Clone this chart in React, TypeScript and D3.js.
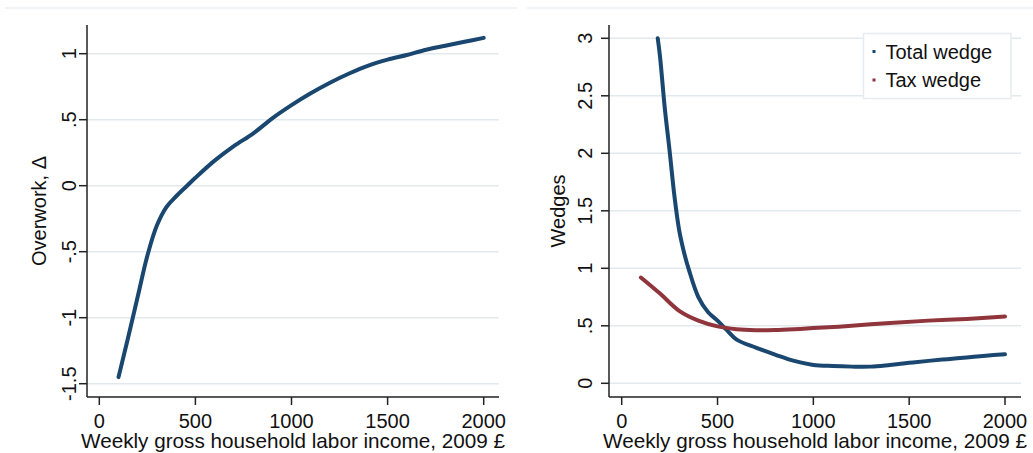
import React from 'react'
import * as d3 from 'd3'

// Overwork by weekly income (left panel)
const overworkIncome = [100, 150, 200, 250, 300, 350, 400, 450, 500, 600, 700, 800, 900, 1000, 1100, 1200, 1300, 1400, 1500, 1600, 1700, 1800, 1900, 2000]
const overworkValues = [-1.45, -1.15, -0.84, -0.53, -0.3, -0.16, -0.08, -0.01, 0.06, 0.19, 0.3, 0.395, 0.51, 0.61, 0.7, 0.78, 0.85, 0.91, 0.955, 0.99, 1.03, 1.06, 1.09, 1.12]

// Wedges by weekly income (right panel)
const totalIncome = [188, 200, 225, 250, 275, 300, 325, 350, 400, 450, 500, 550, 600, 700, 800, 900, 1000, 1100, 1200, 1300, 1400, 1500, 1600, 1700, 1800, 1900, 2000]
const totalWedge = [3.0, 2.84, 2.39, 2.02, 1.63, 1.33, 1.14, 0.99, 0.75, 0.62, 0.545, 0.46, 0.38, 0.31, 0.25, 0.195, 0.16, 0.15, 0.145, 0.145, 0.16, 0.178, 0.195, 0.21, 0.225, 0.24, 0.252]
const taxIncome = [100, 200, 300, 400, 500, 600, 700, 800, 900, 1000, 1200, 1400, 1600, 1800, 2000]
const taxWedge = [0.92, 0.78, 0.63, 0.545, 0.495, 0.47, 0.462, 0.463, 0.47, 0.48, 0.5, 0.525, 0.545, 0.56, 0.58]

const xTicks = [0, 500, 1000, 1500, 2000]
const leftYTicks = [-1.5, -1, -0.5, 0, 0.5, 1]
const rightYTicks = [0, 0.5, 1, 1.5, 2, 2.5, 3]
const legendLabels = ['Total wedge', 'Tax wedge']

const BLUE = '#1a476f'
const RED = '#90353b'
const GRID = '#e3eaee'
const FONT = 'Arial, "Liberation Sans", sans-serif'

// Stata-style labels: ".5", "-.5", "1.5"
const fmt = (v: number) => {
  const s = String(v)
  return s.replace(/^0\./, '.').replace(/^-0\./, '-.')
}

type Series = { xs: number[]; ys: number[]; color: string }

type PanelProps = {
  left: number
  right: number
  top: number
  bottom: number
  yDomain: [number, number]
  yRange: [number, number]
  xRange: [number, number]
  yTicks: number[]
  yTitle: string
  yLabelX: number
  yTitleX: number
  series: Series[]
}

const Panel = (p: PanelProps) => {
  const x = d3.scaleLinear().domain([0, 2000]).range(p.xRange)
  const y = d3.scaleLinear().domain(p.yDomain).range(p.yRange)
  const line = (s: Series) =>
    d3
      .line<number>()
      .x((_, i) => x(s.xs[i]))
      .y(d => y(d))
      .curve(d3.curveCatmullRom.alpha(0.5))(s.ys) || ''
  const midY = (p.top + p.bottom) / 2
  const midX = (p.left + p.right) / 2

  return (
    <g fontFamily={FONT}>
      {p.yTicks.map(t => (
        <line key={'g' + t} x1={p.left} x2={p.right} y1={y(t)} y2={y(t)} stroke={GRID} strokeWidth={1.5} />
      ))}
      {p.series.map((s, i) => (
        <path key={i} d={line(s)} fill="none" stroke={s.color} strokeWidth={4} strokeLinejoin="round" strokeLinecap="round" />
      ))}
      <line x1={p.left} x2={p.left} y1={p.top} y2={p.bottom} stroke="#222" strokeWidth={1.5} />
      <line x1={p.left} x2={p.right} y1={p.bottom} y2={p.bottom} stroke="#222" strokeWidth={1.5} />
      {p.yTicks.map(t => (
        <g key={'y' + t}>
          <line x1={p.left - 8} x2={p.left} y1={y(t)} y2={y(t)} stroke="#222" strokeWidth={1.5} />
          <text transform={`translate(${p.yLabelX},${y(t)}) rotate(-90)`} textAnchor="middle" fontSize={20} fill="#111">
            {fmt(t)}
          </text>
        </g>
      ))}
      {xTicks.map(t => (
        <g key={'x' + t}>
          <line x1={x(t)} x2={x(t)} y1={p.bottom} y2={p.bottom + 8} stroke="#222" strokeWidth={1.5} />
          <text x={x(t)} y={428} textAnchor="middle" fontSize={20} fill="#111">
            {t}
          </text>
        </g>
      ))}
      <text transform={`translate(${p.yTitleX},${midY}) rotate(-90)`} textAnchor="middle" fontSize={20} fill="#111">
        {p.yTitle}
      </text>
      <text x={midX} y={448} textAnchor="middle" fontSize={20.7} fill="#111">
        Weekly gross household labor income, 2009 £
      </text>
    </g>
  )
}

export default function App() {
  return (
    <svg width={1033} height={453} style={{ position: 'absolute', left: 0, top: 0, background: '#fff' }}>
      <line x1={5} x2={517} y1={8} y2={8} stroke="#edf1f3" strokeWidth={1.5} />
      <line x1={527} x2={1033} y1={8} y2={8} stroke="#edf1f3" strokeWidth={1.5} />
      <Panel
        left={87}
        right={499}
        top={25}
        bottom={397}
        xRange={[99.3, 483.7]}
        yDomain={[0, 1]}
        yRange={[185.7, 53.7]}
        yTicks={leftYTicks}
        yTitle="Overwork, Δ"
        yLabelX={76}
        yTitleX={46}
        series={[{ xs: overworkIncome, ys: overworkValues, color: BLUE }]}
      />
      <Panel
        left={609}
        right={1021}
        top={25}
        bottom={397}
        xRange={[621.7, 1005]}
        yDomain={[0, 3]}
        yRange={[383.3, 38.3]}
        yTicks={rightYTicks}
        yTitle="Wedges"
        yLabelX={592}
        yTitleX={565}
        series={[
          { xs: totalIncome, ys: totalWedge, color: BLUE },
          { xs: taxIncome, ys: taxWedge, color: RED },
        ]}
      />
      <g fontFamily={FONT}>
        <rect x={863.5} y={33.5} width={147.5} height={65} fill="#fff" stroke="#e6ecef" strokeWidth={1.5} />
        {legendLabels.map((l, i) => (
          <g key={l}>
            <rect x={872.5} y={50 + i * 28.5} width={3} height={3} fill={i === 0 ? BLUE : RED} />
            <text x={885.5} y={58.5 + i * 28.5} fontSize={20} fill="#111">
              {l}
            </text>
          </g>
        ))}
      </g>
    </svg>
  )
}
